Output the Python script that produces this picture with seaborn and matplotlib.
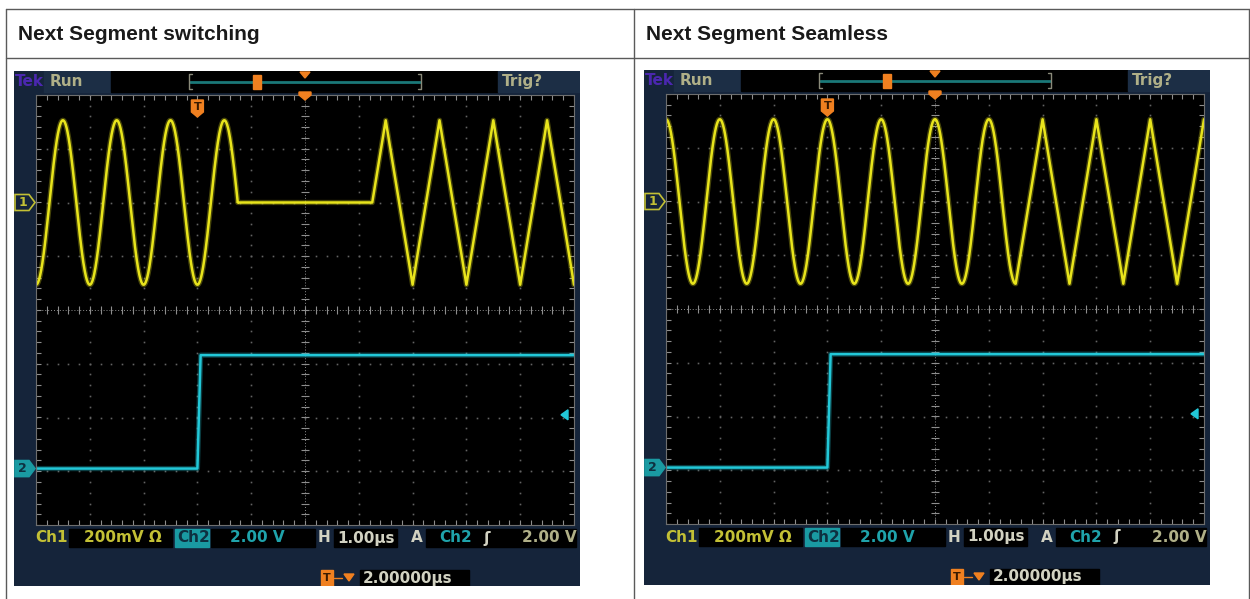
"""
Two Tektronix scope shots side by side: next segment switching vs. seamless.
"""
import numpy as np
import pandas as pd
import matplotlib
matplotlib.use('Agg')
import matplotlib.pyplot as plt
from matplotlib.patches import Rectangle, Polygon
import seaborn as sns

sns.set_style('white')
plt.rcParams['font.family'] = ['DejaVu Sans']

W, H = 1250, 599

titles = ['Next Segment switching', 'Next Segment Seamless']

ch1_offset = 2.0      # yellow ground, div above centre
ch1_amp = 1.53        # div
sine_period = 1.0     # div (H 1.00 us/div)

# left shot: sine -> idle -> triangle
sw_sine_span = (-5.0, -1.25)
sw_sine_peak = -4.5
sw_idle_span = (-1.25, 1.25)
sw_tri_t = [1.25, 1.5, 2.0, 2.5, 3.0, 3.5, 4.0, 4.5, 5.0]
sw_tri_v = [0, 1, -1, 1, -1, 1, -1, 1, -1]

# right shot: sine straight into triangle
sl_sine_span = (-5.0, 1.5)
sl_sine_peak = -5.0
sl_tri_t = [1.5, 2.0, 2.5, 3.0, 3.5, 4.0, 4.5, 5.0]
sl_tri_v = [-1, 1, -1, 1, -1, 1, -1, 1]

# Ch2 (cyan) marker step
ch2_low, ch2_high = -2.95, -0.84
ch2_edge_t = [-5.0, -2.0, -1.94, 5.0]
ch2_edge_v = [ch2_low, ch2_low, ch2_high, ch2_high]
ch2_trig_level = -1.95
trigger_t = -2.0

TRACE_COLORS = {'Ch1': '#e8e41c', 'Ch2': '#22c8d8'}
NAVY = '#15243a'
NAVY2 = '#1c2e45'
ORANGE = '#f08020'
YEL_TXT = '#c3c035'
TEAL_TXT = '#1fa3ab'
LIGHT_TXT = '#d2d2c2'
KHAKI = '#b0b088'

SCOPE_W, SCOPE_H = 566, 515
GRID_X, GRID_Y, GRID_W, GRID_H = 22, 24, 538, 430
DIV = GRID_W / 10

fig = plt.figure(figsize=(W / 100, H / 100), dpi=100)


def px_axes(x, y, w, h, z):
    return fig.add_axes([x / W, 1 - (y + h) / H, w / W, h / H], zorder=z)


def loc_x(t):
    return GRID_X + (t + 5) * DIV


def loc_y(v):
    return GRID_Y + (4 - v) * GRID_H / 8


def build_traces(sine_span, sine_peak, tri_t, tri_v, idle_span=None):
    t = np.linspace(sine_span[0], sine_span[1], 700)
    v = np.cos(2 * np.pi * (t - sine_peak) / sine_period)
    ts, vs = [t], [v]
    if idle_span is not None:
        ts.append(np.array(idle_span))
        vs.append(np.zeros(2))
    ts.append(np.array(tri_t, float))
    vs.append(np.array(tri_v, float))
    ch1 = pd.DataFrame({'t': np.concatenate(ts),
                        'v': ch1_offset + ch1_amp * np.concatenate(vs),
                        'trace': 'Ch1'})
    ch2 = pd.DataFrame({'t': ch2_edge_t, 'v': ch2_edge_v, 'trace': 'Ch2'})
    return pd.concat([ch1, ch2], ignore_index=True)


def draw_graticule(ax):
    dot, tick = '#636363', '#8e8e8e'
    fx = np.arange(-5, 5.001, 0.2)
    fy = np.arange(-4, 4.001, 0.2)
    for k in [-4, -3, -2, -1, 1, 2, 3, 4]:
        ax.plot(np.full_like(fy, k), fy, ls='none', marker='s', ms=1.2,
                mew=0, color=dot)
    for k in [-3, -2, -1, 1, 2, 3]:
        ax.plot(fx, np.full_like(fx, k), ls='none', marker='s', ms=1.2,
                mew=0, color=dot)
    # centre cross with fine ticks
    ax.axvline(0, color=tick, lw=0.7, ls=(0, (1, 2)))
    ax.axhline(0, color=tick, lw=0.7, ls=(0, (1, 2)))
    ax.hlines(fy, -0.07, 0.07, color=tick, lw=0.8)
    ax.vlines(fx, -0.07, 0.07, color=tick, lw=0.8)
    # border ticks
    ax.vlines(fx, 3.9, 4, color=tick, lw=0.8)
    ax.vlines(fx, -4, -3.9, color=tick, lw=0.8)
    ax.hlines(fy, -5, -4.9, color=tick, lw=0.8)
    ax.hlines(fy, 4.9, 5, color=tick, lw=0.8)
    for s in ax.spines.values():
        s.set_color('#6e6e6e')
        s.set_linewidth(0.8)


def txt(ax, x, y, s, color, size=11, weight='bold', ha='left'):
    ax.text(x, y, s, color=color, fontsize=size, fontweight=weight,
            ha=ha, va='center', family=['DejaVu Sans'])


def draw_scope(sx, sy, df):
    # background / frame
    bg = px_axes(sx, sy, SCOPE_W, SCOPE_H, 1)
    bg.set_xlim(0, SCOPE_W)
    bg.set_ylim(SCOPE_H, 0)
    bg.axis('off')
    bg.add_patch(Rectangle((0, 0), SCOPE_W, SCOPE_H, color=NAVY))
    bg.add_patch(Rectangle((30, 0), 67, 21, color=NAVY2))
    bg.add_patch(Rectangle((97, 0), 387, 21, color='black'))
    bg.add_patch(Rectangle((484, 0), 82, 21, color=NAVY2))
    txt(bg, 1, 10.5, 'Tek', '#4b27b0')
    txt(bg, 36, 10.5, 'Run', KHAKI)
    txt(bg, 488, 10.5, 'Trig?', KHAKI)
    # record bar
    bg.plot([176, 406], [10.5, 10.5], color='#1a7878', lw=2)
    for bx, d in [(175, 3), (407, -3)]:
        bg.plot([bx + d, bx, bx, bx + d], [3, 3, 18, 18], color='#8a8a7a', lw=1)
    # readout boxes
    for x, w in [(55, 103), (197, 104), (320, 63), (412, 150)]:
        bg.add_patch(Rectangle((x, 458), w, 18, color='black'))
    bg.add_patch(Rectangle((161, 458), 34, 18, color='#1a9aa2'))
    bg.add_patch(Rectangle((346, 499), 109, 16, color='black'))
    r1, r2 = 467, 507
    txt(bg, 21, r1, 'Ch1', YEL_TXT)
    txt(bg, 70, r1, '200mV Ω', YEL_TXT)
    txt(bg, 163, r1, 'Ch2', '#0e3040')
    txt(bg, 216, r1, '2.00 V', TEAL_TXT)
    txt(bg, 304, r1, 'H', LIGHT_TXT)
    txt(bg, 323, r1, '1.00µs', LIGHT_TXT)
    txt(bg, 397, r1, 'A', LIGHT_TXT)
    txt(bg, 425, r1, 'Ch2', TEAL_TXT)
    txt(bg, 469, r1, 'ʃ', LIGHT_TXT)
    txt(bg, 508, r1, '2.00 V', KHAKI)
    txt(bg, 349, r2, '2.00000µs', LIGHT_TXT)
    # channel ground markers
    for lvl, lab, face, edge, fc in [(ch1_offset, '1', NAVY, YEL_TXT, YEL_TXT),
                                     (ch2_low, '2', '#1a9aa2', '#1a9aa2', '#0e3040')]:
        y = loc_y(lvl)
        bg.add_patch(Polygon([(1, y - 8), (15, y - 8), (21, y), (15, y + 8), (1, y + 8)],
                             closed=True, facecolor=face, edgecolor=edge, lw=1.2))
        txt(bg, 8.5, y, lab, fc, size=9, ha='center')

    # graticule + traces
    ga = px_axes(sx + GRID_X, sy + GRID_Y, GRID_W, GRID_H, 2)
    ga.set_facecolor('black')
    draw_graticule(ga)
    sns.lineplot(data=df, x='t', y='v', hue='trace', palette=TRACE_COLORS,
                 units='trace', estimator=None, sort=False, lw=3.8, alpha=0.3,
                 legend=False, ax=ga)
    sns.lineplot(data=df, x='t', y='v', hue='trace', palette=TRACE_COLORS,
                 units='trace', estimator=None, sort=False, lw=1.8,
                 legend=False, ax=ga)
    ga.set_xlim(-5, 5)
    ga.set_ylim(-4, 4)
    ga.set_xticks([])
    ga.set_yticks([])
    ga.set_xlabel('')
    ga.set_ylabel('')

    # markers on top
    ov = px_axes(sx, sy, SCOPE_W, SCOPE_H, 3)
    ov.set_xlim(0, SCOPE_W)
    ov.set_ylim(SCOPE_H, 0)
    ov.axis('off')
    cx = loc_x(0)
    ov.add_patch(Polygon([(cx - 5, 1), (cx + 5, 1), (cx, 7)], color=ORANGE))
    ov.add_patch(Polygon([(cx - 6, 21), (cx + 6, 21), (cx + 6, 24), (cx, 29), (cx - 6, 24)],
                         color=ORANGE))
    ov.add_patch(Rectangle((239, 4), 8, 14, color=ORANGE))
    tx = loc_x(trigger_t)
    ov.add_patch(Polygon([(tx - 6, 29), (tx + 6, 29), (tx + 6, 41), (tx, 46), (tx - 6, 41)],
                         color=ORANGE))
    txt(ov, tx, 36, 'T', '#3a1a00', size=8, ha='center')
    ty = loc_y(ch2_trig_level)
    ov.add_patch(Polygon([(547, ty), (554, ty - 5), (554, ty + 5)],
                         color=TRACE_COLORS['Ch2']))
    # delay readout icon
    ov.add_patch(Rectangle((307, 499), 12, 16, color=ORANGE))
    txt(ov, 313, r2, 'T', '#3a1a00', size=8, ha='center')
    ov.plot([320, 328], [r2, r2], color=ORANGE, lw=1)
    ov.add_patch(Polygon([(330, 503), (340, 503), (335, 510)], color=ORANGE))


# table frame and headers
tab = px_axes(0, 0, W, H, 0)
tab.set_xlim(0, W)
tab.set_ylim(H, 0)
tab.axis('off')
line = dict(color='#5a5a5a', lw=1.0)
tab.plot([5.5, 1248.5], [8.5, 8.5], **line)
tab.plot([5.5, 1248.5], [57.5, 57.5], **line)
for x in [5.5, 633.5, 1248.5]:
    tab.plot([x, x], [8.5, H], **line)
for x, title in zip([18, 646], titles):
    tab.text(x, 34, title, fontsize=15, fontweight='bold', color='#1a1a1a',
             va='center', ha='left', family=['Liberation Sans', 'DejaVu Sans'])

draw_scope(14, 71, build_traces(sw_sine_span, sw_sine_peak, sw_tri_t, sw_tri_v,
                                idle_span=sw_idle_span))
draw_scope(644, 70, build_traces(sl_sine_span, sl_sine_peak, sl_tri_t, sl_tri_v))

fig.savefig('out.png', dpi=100, facecolor='white')
